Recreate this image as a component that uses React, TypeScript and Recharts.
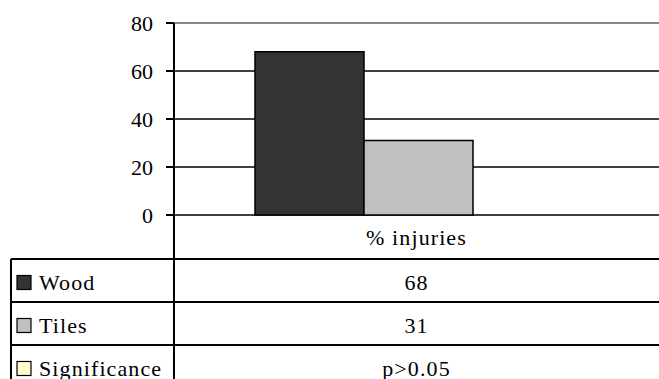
import React from 'react';
import { BarChart, Bar, XAxis, YAxis, CartesianGrid, ReferenceLine } from 'recharts';

const categories = ['% injuries'];
const seriesNames = ['Wood', 'Tiles'];
const woodValues = [68];
const tilesValues = [31];
const significanceLabel = 'Significance';
const significanceValues = ['p>0.05'];
const yTicks = [0, 20, 40, 60, 80];
const seriesColors = ['#333333', '#c0c0c0'];
const significanceColor = '#ffffcc';

const data = categories.map((c, i) => ({ name: c, Wood: woodValues[i], Tiles: tilesValues[i] }));

const FONT = '"Liberation Serif", "Times New Roman", serif';
const textStyle = { fontFamily: FONT, fontSize: 22, letterSpacing: 1.1 };

const tableRows = [
  { label: seriesNames[0], color: seriesColors[0], value: String(woodValues[0]) },
  { label: seriesNames[1], color: seriesColors[1], value: String(tilesValues[0]) },
  { label: significanceLabel, color: significanceColor, value: significanceValues[0] },
];

export default function App() {
  const W = 659;
  const H = 379;
  const axisX = 174;
  const baseY = 215;
  const rowTop = 259;
  const rowH = 43;
  const tableLeft = 11;
  const colCenter = (axisX + W) / 2;
  return (
    <div style={{ position: 'absolute', left: 0, top: 0, width: W, height: H, overflow: 'hidden', background: '#fff', fontFamily: FONT }}>
      <BarChart
        width={W}
        height={H}
        data={data}
        margin={{ top: 23, right: 0, bottom: H - baseY, left: 0 }}
        barGap={0}
        barSize={109}
        style={{ fontFamily: FONT }}
      >
        <CartesianGrid vertical={false} stroke="#000" strokeWidth={1.5} />
        <ReferenceLine y={80} stroke="#888" strokeWidth={2} />
        <XAxis
          dataKey="name"
          height={0}
          tick={false}
          tickLine={false}
          axisLine={{ stroke: '#000', strokeWidth: 2 }}
          padding={{ left: 0, right: 106 }}
        />
        <YAxis
          width={axisX}
          domain={[0, 80]}
          ticks={yTicks}
          interval={0}
          tickSize={8}
          tickMargin={13}
          axisLine={{ stroke: '#000', strokeWidth: 2 }}
          tickLine={{ stroke: '#000', strokeWidth: 2 }}
          tick={{ fontSize: 22, fill: '#000', style: { fontFamily: FONT } }}
        />
        <Bar dataKey="Wood" fill={seriesColors[0]} stroke="#000" strokeWidth={1.5} isAnimationActive={false} />
        <Bar dataKey="Tiles" fill={seriesColors[1]} stroke="#000" strokeWidth={1.5} isAnimationActive={false} />
      </BarChart>
      <svg width={W} height={H} style={{ position: 'absolute', left: 0, top: 0, pointerEvents: 'none' }}>
        <line x1={axisX} x2={axisX} y1={baseY} y2={H} stroke="#000" strokeWidth={2} />
        <line x1={tableLeft} x2={tableLeft} y1={rowTop} y2={H} stroke="#000" strokeWidth={2} />
        <text x={colCenter} y={(baseY + rowTop) / 2} textAnchor="middle" dominantBaseline="central" style={textStyle} fill="#000">
          {categories[0]}
        </text>
        {tableRows.map((r, i) => {
          const top = rowTop + i * rowH;
          const cy = top + rowH / 2;
          return (
            <g key={r.label}>
              <line x1={tableLeft} x2={W} y1={top} y2={top} stroke="#000" strokeWidth={2} />
              <rect x={17} y={cy - 5} width={14} height={14} fill={r.color} stroke="#000" strokeWidth={1.2} />
              <text x={39} y={cy + 2} dominantBaseline="central" style={textStyle} fill="#000">
                {r.label}
              </text>
              <text x={colCenter} y={cy + 2} textAnchor="middle" dominantBaseline="central" style={textStyle} fill="#000">
                {r.value}
              </text>
            </g>
          );
        })}
      </svg>
    </div>
  );
}
